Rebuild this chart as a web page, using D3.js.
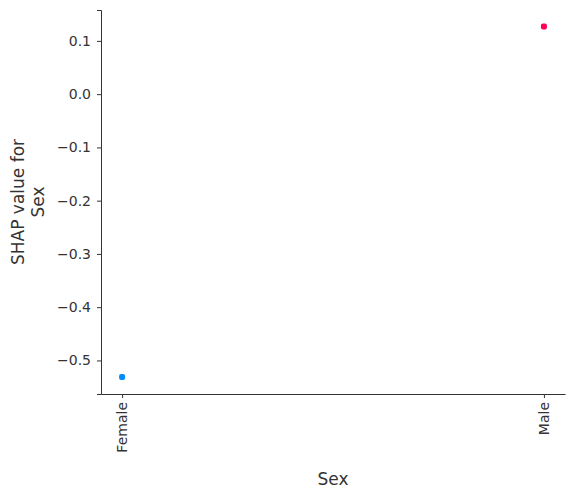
<!DOCTYPE html>
<html><head><meta charset="utf-8">
<script src="https://cdn.jsdelivr.net/npm/d3@7"></script>
<style>body{margin:0;background:#fff}text{font-family:"DejaVu Sans",sans-serif}</style>
</head><body>
<svg id="chart" width="576" height="498"></svg>
<script>
const categories = ['Female', 'Male'];
const shapValues = [-0.531, 0.127];
const pointColors = ['#008bfb', '#ff0052'];
const yTicks = [0.1, 0.0, -0.1, -0.2, -0.3, -0.4, -0.5];

const svg = d3.select('#chart');
const margin = { top: 10, right: 11, bottom: 104, left: 101 };
const innerWidth = 576 - margin.left - margin.right;
const innerHeight = 498 - margin.top - margin.bottom;
const g = svg.append('g').attr('transform', `translate(${margin.left},${margin.top})`);

const x = d3.scaleLinear().domain([-0.05, 1.05]).range([0, innerWidth]);
const y = d3.scaleLinear().domain([-0.563, 0.158]).range([innerHeight, 0]);

const fmt = v => (v < 0 ? '\u2212' : '') + Math.abs(v).toFixed(1);
const yAxis = g.append('g').call(d3.axisLeft(y).tickValues(yTicks).tickFormat(fmt).tickSize(4).tickPadding(6));
yAxis.select('.domain').attr('stroke', '#333');
yAxis.selectAll('.tick line').attr('stroke', '#333');
yAxis.selectAll('text').style('font-size', '14px').attr('fill', '#333');

const xAxis = g.append('g').attr('transform', `translate(0,${innerHeight})`)
    .call(d3.axisBottom(x).tickValues([0, 1]).tickFormat(i => categories[i]).tickSize(4).tickSizeOuter(0));
xAxis.select('.domain').attr('stroke', '#333');
xAxis.selectAll('.tick line').attr('stroke', '#333');
xAxis.selectAll('text').style('font-size', '14px').attr('fill', '#333')
    .attr('transform', 'rotate(-90)').attr('text-anchor', 'end')
    .attr('x', -8).attr('y', 0).attr('dy', '0.35em');

g.selectAll('.pt').data(shapValues).enter().append('rect')
    .attr('class', 'pt')
    .attr('x', (d, i) => x(i) - 3).attr('y', d => y(d) - 3)
    .attr('width', 6).attr('height', 6).attr('rx', 2)
    .attr('fill', (d, i) => pointColors[i]);

svg.append('text').attr('x', margin.left + x(0.5)).attr('y', 485)
    .attr('text-anchor', 'middle').style('font-size', '17px').attr('fill', '#333').text('Sex');
const yl = svg.append('text').attr('transform', `translate(24,${margin.top + innerHeight / 2}) rotate(-90)`)
    .attr('text-anchor', 'middle').style('font-size', '17px').attr('fill', '#333');
yl.append('tspan').attr('x', 0).attr('dy', 0).text('SHAP value for');
yl.append('tspan').attr('x', 0).attr('dy', 20).text('Sex');
</script>
</body></html>
